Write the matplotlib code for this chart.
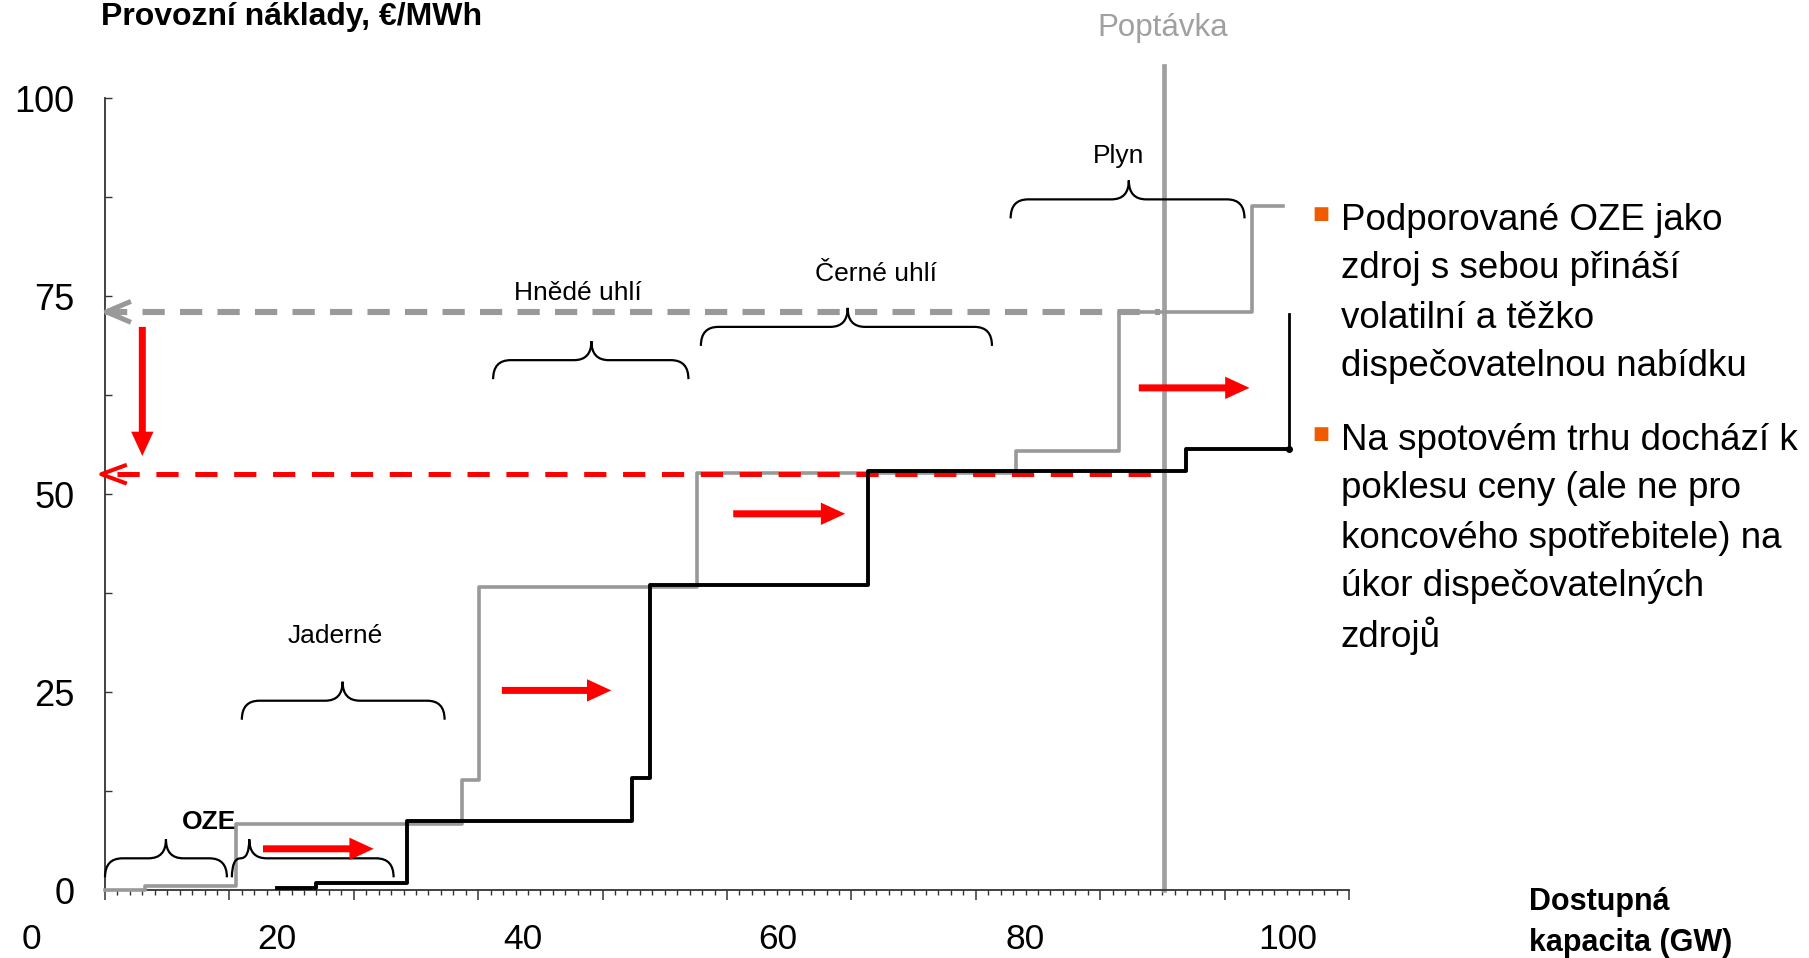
import numpy as np
import matplotlib.pyplot as plt
from matplotlib.path import Path
from matplotlib.patches import PathPatch, FancyArrowPatch

plt.rcParams['font.family'] = ['Liberation Sans', 'DejaVu Sans']
plt.rcParams['lines.scale_dashes'] = False

# nabidkova krivka bez OZE (seda) a s OZE (cerna), x v dilcich osy
gray_x = [0, 3.2, 10.5, 28.7, 30.1, 47.6, 73.2, 81.5, 92.2, 94.7]
gray_y = [0, 0.55, 8.3, 13.9, 38.2, 52.6, 55.4, 73.0, 86.4, 86.4]
black_x = [13.8, 17.0, 24.3, 42.4, 43.8, 61.3, 86.9, 95.2]
black_y = [0.3, 0.85, 8.7, 14.1, 38.5, 52.9, 55.7, 55.7]
black_end_top = 72.7

demand_x = 85.1
demand_top = 104
price_before = 73.0
price_after = 52.5
price_end = 84.8

# zavorky a popisky zdroju
brace_left = [0, 10.2, 11.0, 31.2, 47.9, 72.8]
brace_right = [9.8, 23.2, 27.3, 46.9, 71.3, 91.6]
brace_tip = [4.9, 11.6, 19.1, 39.1, 59.7, 82.3]
brace_level = [4.0, 4.0, 23.9, 66.9, 71.1, 87.2]
group_names = ['Jaderné', 'Hnědé uhlí', 'Černé uhlí', 'Plyn']
group_x = [18.5, 38.0, 62.0, 81.5]
group_y = [32.1, 75.4, 77.8, 92.7]

# posun nabidky doprava
shift_start = [12.7, 31.9, 50.5, 83.1]
shift_end = [21.6, 40.7, 59.5, 92.0]
shift_level = [5.2, 25.2, 47.5, 63.4]

xtick_labels = ['0', '20', '40', '60', '80', '100']
xtick_label_pos = [-5.9, 13.8, 33.6, 54.1, 74.0, 95.1]

bullets = [
    ['Podporované OZE jako', 'zdroj s sebou přináší', 'volatilní a těžko',
     'dispečovatelnou nabídku'],
    ['Na spotovém trhu dochází k', 'poklesu ceny (ale ne pro',
     'koncového spotřebitele) na', 'úkor dispečovatelných', 'zdrojů'],
]

GRAY = '#999999'
RED = '#ff0000'

fig = plt.figure(figsize=(18.09, 9.58), dpi=100)
ax = fig.add_axes([105/1809, 1-890/958, 1244/1809, 792/958])
ax.set_xlim(0, 100)
ax.set_ylim(0, 100)
for s in ['top', 'right']:
    ax.spines[s].set_visible(False)
for s in ['left', 'bottom']:
    ax.spines[s].set_linewidth(1.3)
    ax.spines[s].set_color('#333333')

ax.set_xticks(np.arange(0, 101, 10))
ax.set_xticks(np.arange(0, 101, 1), minor=True)
ax.tick_params(axis='x', which='major', length=7.5, width=1.1, direction='out',
               labelbottom=False, color='#333333')
ax.tick_params(axis='x', which='minor', length=3.8, width=1.0, direction='out',
               color='#333333')
for lab, xp in zip(xtick_labels, xtick_label_pos):
    ax.text(xp, -0.063, lab, transform=ax.get_xaxis_transform(), ha='center',
            va='center', fontsize=25.5, clip_on=False)

yt = np.arange(0, 101, 12.5)
ax.set_yticks(yt, labels=[('%d' % v if v % 25 == 0 else '') for v in yt])
ax.tick_params(axis='y', length=5, width=1.0, direction='in', pad=22,
               labelsize=26, color='#333333')

# krivky
ax.step(gray_x, gray_y, where='post', color=GRAY, lw=2.6, zorder=3, clip_on=False)
ax.plot([demand_x, demand_x], [0, demand_top], color='#a0a0a0', lw=3.4,
        zorder=2, clip_on=False)

# cenove hladiny
ax.plot([0, price_end], [price_before, price_before], color=GRAY, lw=4.4,
        dashes=(16, 11), zorder=4)
ax.plot([1.9, 0.1, 1.9], [price_before + 1.2, price_before, price_before - 1.2],
        color=GRAY, lw=3.6, zorder=4, clip_on=False)
ax.plot([1.0, price_end], [price_after, price_after], color=RED, lw=3.6,
        dashes=(16, 12), zorder=4)
ax.plot([1.6, -0.3, 1.6], [price_after + 1.1, price_after, price_after - 1.1],
        color=RED, lw=2.9, zorder=4, clip_on=False)

ax.step(black_x, black_y, where='post', color='black', lw=2.8, zorder=5)
ax.plot([black_x[-1], black_x[-1]], [black_y[-1], black_end_top], color='black',
        lw=2.0, zorder=5)
ax.plot(black_x[-1], black_y[-1], 'o', color='black', ms=4, zorder=6)


def brace(x0, x1, xt, y, d=2.4, h=2.4, r=1.4):
    rl = min(r, (xt - x0) / 2)
    rr = min(r, (x1 - xt) / 2)
    verts = [(x0, y - d), (x0, y), (x0 + rl, y), (xt - rl, y), (xt, y), (xt, y + h),
             (xt, y), (xt + rr, y), (x1 - rr, y), (x1, y), (x1, y - d)]
    codes = [Path.MOVETO, Path.CURVE3, Path.CURVE3, Path.LINETO, Path.CURVE3,
             Path.CURVE3, Path.CURVE3, Path.CURVE3, Path.LINETO, Path.CURVE3,
             Path.CURVE3]
    ax.add_patch(PathPatch(Path(verts, codes), fill=False, lw=1.6, color='black',
                           zorder=6, clip_on=False))


for x0, x1, xt, y in zip(brace_left, brace_right, brace_tip, brace_level):
    brace(x0, x1, xt, y)

for name, gx, gy in zip(group_names, group_x, group_y):
    ax.text(gx, gy, name, ha='center', va='center', fontsize=19)
ax.text(8.35, 8.6, 'OZE', ha='center', va='center', fontsize=19,
        fontweight='bold', zorder=7)

for x0, x1, y in zip(shift_start, shift_end, shift_level):
    ax.add_patch(FancyArrowPatch((x0, y), (x1, y),
                                 arrowstyle='simple,head_width=1.15,head_length=1.25,tail_width=0.36',
                                 mutation_scale=14, color=RED, lw=0, shrinkA=0,
                                 shrinkB=0, zorder=7))
ax.add_patch(FancyArrowPatch((3.0, 71.1), (3.0, 54.8),
                             arrowstyle='simple,head_width=1.15,head_length=1.25,tail_width=0.36',
                             mutation_scale=14, color=RED, lw=0, shrinkA=0,
                             shrinkB=0, zorder=7))

# texty mimo graf
fig.text(101/1809, 1 - 17/958, 'Provozní náklady, €/MWh', fontsize=23,
         fontweight='bold', ha='left', va='center')
fig.text(1163/1809, 1 - 28/958, 'Poptávka', fontsize=22.5, color='#a0a0a0',
         ha='center', va='center')
fig.text(1529/1809, 1 - 902/958, 'Dostupná', fontsize=22, fontweight='bold',
         ha='left', va='center')
fig.text(1529/1809, 1 - 943/958, 'kapacita (GW)', fontsize=22, fontweight='bold',
         ha='left', va='center')

y0 = [220, 440]
for para, ys in zip(bullets, y0):
    fig.text(1321/1809, 1 - (ys - 6)/958, '■', fontsize=13, color='#f05a00',
             family='DejaVu Sans', ha='center', va='center')
    for i, line in enumerate(para):
        fig.text(1341/1809, 1 - (ys + i * 49)/958, line, fontsize=26.5,
                 ha='left', va='center')

fig.savefig('out.png', dpi=100)
